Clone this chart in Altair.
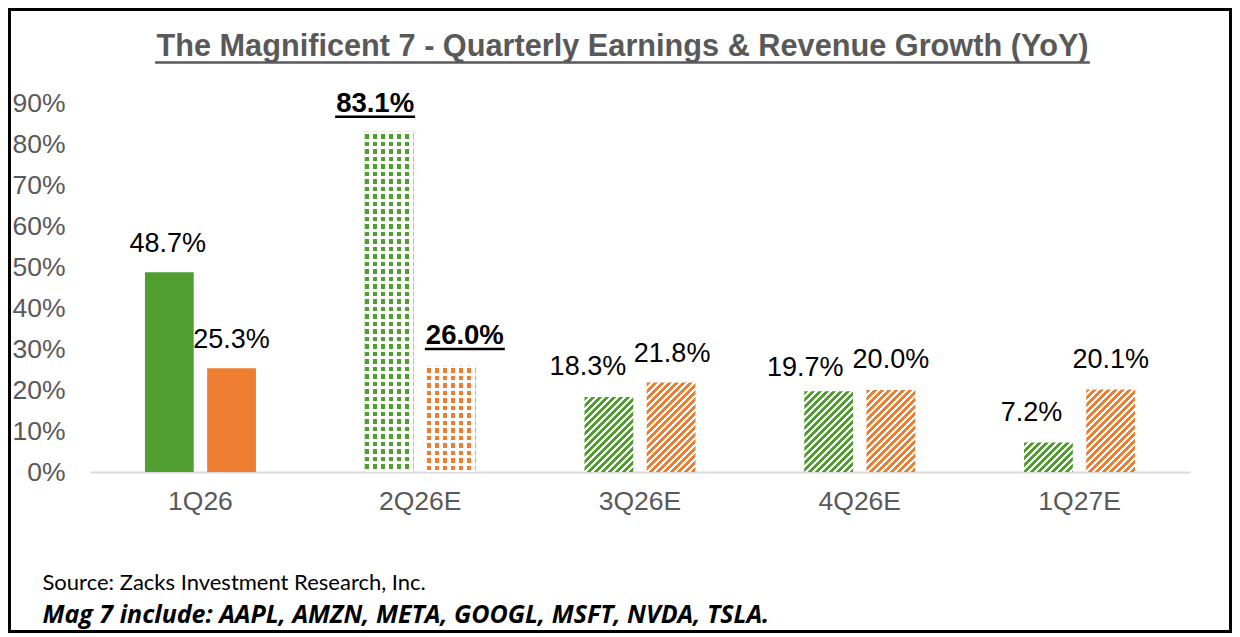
import math
import altair as alt
import pandas as pd

# ---------------- data ----------------
quarters = ["1Q26", "2Q26E", "3Q26E", "4Q26E", "1Q27E"]
series_names = ["Earnings", "Revenue"]
earnings_growth = [48.7, 83.1, 18.3, 19.7, 7.2]
revenue_growth = [25.3, 26.0, 21.8, 20.0, 20.1]
y_tick_values = [0, 10, 20, 30, 40, 50, 60, 70, 80, 90]
title_text = "The Magnificent 7 - Quarterly Earnings & Revenue Growth (YoY)"
source_text = "Source: Zacks Investment Research, Inc."
members_text = "Mag 7 include: AAPL, AMZN, META, GOOGL, MSFT, NVDA, TSLA."

# ---------------- style ----------------
GREEN = "#509D30"
ORANGE = "#ED7D31"
GRAY = "#595959"
series_colors = {"Earnings": GREEN, "Revenue": ORANGE}
quarter_fill = {"1Q26": "solid", "2Q26E": "confetti", "3Q26E": "stripes",
                "4Q26E": "stripes", "1Q27E": "stripes"}
bold_quarter = "2Q26E"
# (dx, dy) of each value label relative to the top centre of its bar
label_shift = {
    ("1Q26", "Earnings"): (-1.5, -20), ("1Q26", "Revenue"): (0, -20),
    ("2Q26E", "Earnings"): (-14, -19), ("2Q26E", "Revenue"): (13.5, -21),
    ("3Q26E", "Earnings"): (-21, -22), ("3Q26E", "Revenue"): (1, -20.5),
    ("4Q26E", "Earnings"): (-23.5, -15), ("4Q26E", "Revenue"): (0, -22),
    ("1Q27E", "Earnings"): (-17, -21.5), ("1Q27E", "Revenue"): (0, -21.5),
}

FONT = "Liberation Sans"
W, H = 1100, 369
PAD = {"left": 82, "top": 95, "right": 42, "bottom": 161}
X_PI, X_PO = 0.495, 0.25
O_PI = 0.216
Y_MAX = 90

# geometry derived from the band scales (used for pattern sizing only)
step_x = W / (len(quarters) - X_PI + 2 * X_PO)
band_x = step_x * (1 - X_PI)
step_o = band_x / (len(series_names) - O_PI)
bar_w = step_o * (1 - O_PI)
sub_center = {s: (i * step_o + bar_w / 2) - band_x / 2 for i, s in enumerate(series_names)}

rows = []
for q, e, r in zip(quarters, earnings_growth, revenue_growth):
    for s, v in (("Earnings", e), ("Revenue", r)):
        rows.append({"quarter": q, "series": s, "value": v,
                     "label": f"{v:.1f}%", "key": f"{q}|{s}"})
df = pd.DataFrame(rows)


def stripe_gradient(c1, c2, length, period, duty, x2, y2):
    n = math.ceil(length / period)
    stops = []
    for k in range(n):
        a = k * period / length
        m = min((k * period + period * duty) / length, 1.0)
        b = min((k + 1) * period / length, 1.0)
        stops += [(a, c1), (m, c1), (m, c2), (b, c2)]
    return alt.LinearGradient(
        gradient="linear",
        stops=[alt.GradientStop(offset=round(o, 5), color=c) for o, c in stops],
        x1=0, y1=0, x2=x2, y2=y2)


def diag_gradient(color, w, h, period=7.0, duty=0.55):
    L = w + h
    k = L / (w * w + h * h)
    return stripe_gradient(color, "#FFFFFF", L, period, duty, w * k, h * k)


x_enc = alt.X("quarter:N", sort=quarters,
              scale=alt.Scale(paddingInner=X_PI, paddingOuter=X_PO),
              axis=alt.Axis(title=None, labelAngle=0, labelFont=FONT, labelFontSize=26.5,
                            labelColor=GRAY, labelPadding=16, ticks=False, tickSize=0,
                            domainColor="#D9D9D9", domainWidth=2, grid=False))
xo_enc = alt.XOffset("series:N", sort=series_names,
                     scale=alt.Scale(paddingInner=O_PI, paddingOuter=0))
y_enc = alt.Y("value:Q", scale=alt.Scale(domain=[0, Y_MAX], nice=False),
              axis=alt.Axis(title=None, values=y_tick_values, labelExpr="datum.value + '%'",
                            grid=False, domain=False, ticks=False, tickSize=0,
                            labelFont=FONT, labelFontSize=26.5, labelColor=GRAY,
                            labelPadding=25))

base = alt.Chart(df)
layers = []
for q in quarters:
    for s in series_names:
        key = f"{q}|{s}"
        v = float(df.loc[df.key == key, "value"].iloc[0])
        h = v / Y_MAX * H
        col = series_colors[s]
        sel = base.transform_filter(alt.datum.key == key)
        kind = quarter_fill[q]
        if kind == "solid":
            layers.append(sel.mark_bar(fill=col).encode(x=x_enc, xOffset=xo_enc, y=y_enc))
        elif kind == "stripes":
            layers.append(sel.mark_bar(fill=diag_gradient(col, bar_w, h)).encode(
                x=x_enc, xOffset=xo_enc, y=y_enc))
        else:
            cols = stripe_gradient(col, "#FFFFFF", bar_w, 8.0, 4.5 / 8, 1, 0)
            rws = stripe_gradient("#FFFFFF", "rgba(255,255,255,0)", h, 7.5, 3 / 7.5, 0, 1)
            layers.append(sel.mark_bar(fill=cols).encode(x=x_enc, xOffset=xo_enc, y=y_enc))
            layers.append(sel.mark_bar(fill=rws).encode(x=x_enc, xOffset=xo_enc, y=y_enc))

# value labels
LBL_FS = 27
BOLD_FS = 27.5
for q in quarters:
    for s in series_names:
        key = f"{q}|{s}"
        dx, dy = label_shift[(q, s)]
        sel = base.transform_filter(alt.datum.key == key)
        bold = q == bold_quarter
        layers.append(sel.mark_text(
            font=FONT, fontSize=BOLD_FS if bold else LBL_FS,
            fontWeight="bold" if bold else "normal", color="black",
            align="center", baseline="alphabetic", dx=dx, dy=dy
        ).encode(x=x_enc, xOffset=xo_enc, y=y_enc, text="label:N"))
        if bold:
            ul_len = 2.835 * BOLD_FS + 2
            layers.append(sel.mark_tick(
                orient="horizontal", size=ul_len, thickness=2.5, color="black", opacity=1,
                xOffset=sub_center[s] + dx, yOffset=dy + 4.5
            ).encode(x=x_enc, y=y_enc))

# title, underline, footer, frame
one = pd.DataFrame({"t": [title_text], "s": [source_text], "m": [members_text]})
ann = alt.Chart(one)
TITLE_FS = 30.7
title_cx = 622.5 - 90
title_w = 30.45 * TITLE_FS
layers.append(ann.mark_text(font=FONT, fontSize=TITLE_FS, fontWeight="bold", color=GRAY,
                            align="center", baseline="alphabetic").encode(
    text="t:N", x=alt.value(title_cx), y=alt.value(56 - 103)))
layers.append(ann.mark_rule(color=GRAY, strokeWidth=2.5).encode(
    x=alt.value(title_cx - title_w / 2), x2=alt.value(title_cx + title_w / 2),
    y=alt.value(62.5 - 103)))
layers.append(ann.mark_text(font="Lato", fontSize=22, color="black",
                            align="left", baseline="alphabetic").encode(
    text="s:N", x=alt.value(42.5 - 90), y=alt.value(590 - 103)))
layers.append(ann.mark_text(font="Open Sans", fontSize=25, fontWeight="bold", fontStyle="italic",
                            color="black", align="left", baseline="alphabetic").encode(
    text="m:N", x=alt.value(42.5 - 90), y=alt.value(623 - 103)))
layers.append(ann.mark_rect(filled=False, stroke="black", strokeWidth=3).encode(
    x=alt.value(-PAD["left"] + 1.5), x2=alt.value(W + PAD["right"] - 1.5),
    y=alt.value(-PAD["top"] + 1.5), y2=alt.value(H + PAD["bottom"] - 1.5)))

chart = alt.layer(*layers).properties(
    width=W, height=H,
    autosize=alt.AutoSizeParams(type="none"),
    padding=PAD,
    background="white",
).configure_view(stroke="transparent")

chart.save("out.html", embed_options={"renderer": "svg", "actions": False})
